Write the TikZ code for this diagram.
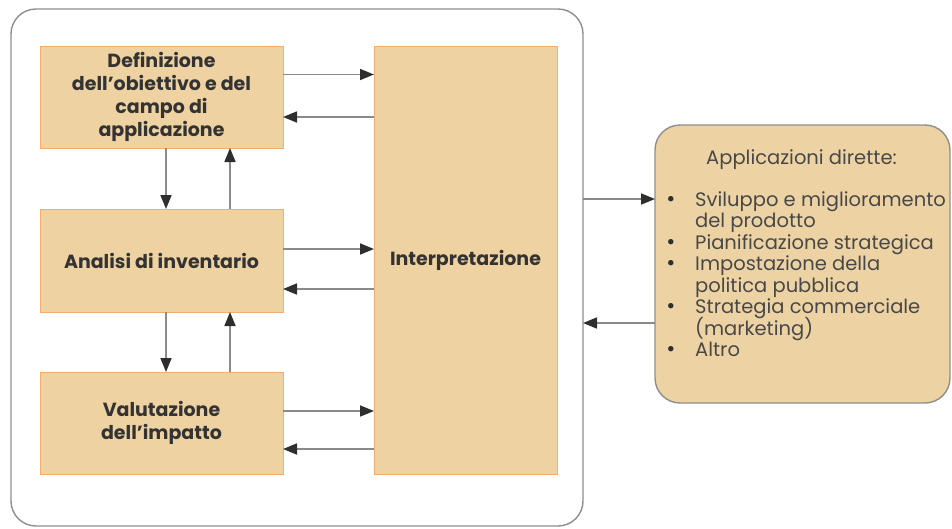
\documentclass[tikz,border=0pt]{standalone}
\usepackage{fontspec}
\setmainfont{Poppins}
\usetikzlibrary{arrows.meta}
\definecolor{boxfill}{HTML}{EFD2A2}
\definecolor{boxline}{HTML}{F0AE70}
\definecolor{appfill}{HTML}{EDD3A4}
\definecolor{frameline}{HTML}{8E8E8E}
\definecolor{connline}{HTML}{8A8A8A}
\definecolor{headcol}{HTML}{2E2E2E}
\definecolor{txt}{HTML}{333333}
\definecolor{apptext}{HTML}{484848}
\tikzset{
  stagebox/.style={draw=boxline, fill=boxfill, line width=1pt, inner sep=0pt, outer sep=0pt,
    align=center, text=txt, font=\bfseries\fontsize{19}{23}\selectfont},
  conn/.style={draw=connline, line width=1.7pt, -{Triangle[length=14pt,width=11pt,color=headcol]}},
  apptxt/.style={anchor=base west, inner sep=0pt, text=apptext, font=\fontsize{19.5}{22}\selectfont},
  bul/.style={anchor=base, inner sep=0pt, text=headcol, font=\fontsize{22}{22}\selectfont}
}
\begin{document}
\begin{tikzpicture}[x=1pt,y=-1pt]
\useasboundingbox (0,0) rectangle (952,528);
% outer frame
\node[draw=frameline, line width=1.4pt, rounded corners=25pt, minimum width=572pt, minimum height=517pt, inner sep=0pt, outer sep=0pt] (frame) at (297,267.5) {};
% stage boxes
\node[stagebox, minimum width=243pt, minimum height=102pt] (def) at (161.5,97) {Definizione\\dell'obiettivo e del\\campo di\\applicazione};
\node[stagebox, minimum width=243pt, minimum height=103pt] (inv) at (161.5,260.5) {Analisi di inventario};
\node[stagebox, minimum width=243pt, minimum height=102pt] (val) at (161.5,423) {Valutazione\\dell'impatto};
\node[stagebox, minimum width=183pt, minimum height=428pt] (int) at (465.5,260) {Interpretazione};
% application box
\node[draw=frameline, fill=appfill, line width=1.4pt, rounded corners=25pt, minimum width=295pt, minimum height=278pt, inner sep=0pt, outer sep=0pt] (app) at (802.5,264) {};
\node[apptxt] (h) at (706,164) {Applicazioni dirette:};
\node[bul] (b1) at (671,206) {•};
\node[apptxt] (l1) at (695,206) {Sviluppo e miglioramento};
\node[apptxt] (l2) at (695,227.5) {del prodotto};
\node[bul] (b2) at (671,249) {•};
\node[apptxt] (l3) at (695,249) {Pianificazione strategica};
\node[bul] (b3) at (671,270.5) {•};
\node[apptxt] (l4) at (695,270.5) {Impostazione della};
\node[apptxt] (l5) at (695,292) {politica pubblica};
\node[bul] (b4) at (671,313.5) {•};
\node[apptxt] (l6) at (695,313.5) {Strategia commerciale};
\node[apptxt] (l7) at (695,335) {(marketing)};
\node[bul] (b5) at (671,356.5) {•};
\node[apptxt] (l8) at (695,356.5) {Altro};
% horizontal connectors
\draw[conn] (def.east |- 0,74.5) -- (int.west |- 0,74.5);
\draw[conn] (int.west |- 0,117) -- (def.east |- 0,117);
\draw[conn] (inv.east |- 0,249) -- (int.west |- 0,249);
\draw[conn] (int.west |- 0,289) -- (inv.east |- 0,289);
\draw[conn] (val.east |- 0,411) -- (int.west |- 0,411);
\draw[conn] (int.west |- 0,449) -- (val.east |- 0,449);
% vertical connectors
\draw[conn] (def.south -| 166,0) -- (inv.north -| 166,0);
\draw[conn] (inv.north -| 230,0) -- (def.south -| 230,0);
\draw[conn] (inv.south -| 166,0) -- (val.north -| 166,0);
\draw[conn] (val.north -| 230,0) -- (inv.south -| 230,0);
% frame to applications
\draw[conn] (frame.east |- 0,199) -- (app.west |- 0,199);
\draw[conn] (app.west |- 0,323) -- (frame.east |- 0,323);
\end{tikzpicture}
\end{document}
